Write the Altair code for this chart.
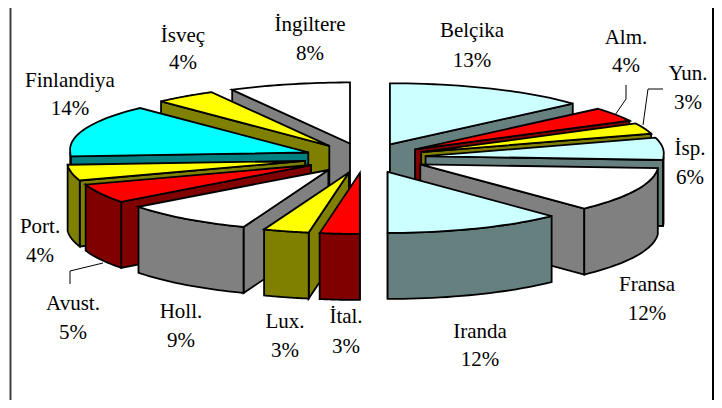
import math
import altair as alt

NAMES = ["Belçika", "Alm.", "Yun.", "İsp.", "Fransa", "Iranda", "İtal.", "Lux.", "Holl.", "Avust.", "Port.", "Finlandiya", "İsveç", "İngiltere"]
SHARES = [13.4, 3.8, 2.9, 5.9, 11.9, 12.1, 2.7, 3.1, 8.9, 5.1, 4.2, 14.0, 4.1, 7.9]
PERCENT_LABELS = ["13%", "4%", "3%", "6%", "12%", "12%", "3%", "3%", "9%", "5%", "4%", "14%", "4%", "8%"]
TOP_COLORS = ["#CCFFFF", "#FF0000", "#FFFF00", "#CCFFFF", "#FFFFFF", "#CCFFFF", "#FF0000", "#FFFF00", "#FFFFFF", "#FF0000", "#FFFF00", "#00FFFF", "#FFFF00", "#FFFFFF"]
SIDE_COLORS = ["#668080", "#800000", "#808000", "#668080", "#808080", "#668080", "#800000", "#808000", "#808080", "#800000", "#808000", "#008080", "#808000", "#808080"]
# label anchor positions, same order as NAMES
LABEL_X = [472, 626, 688, 690, 647, 480, 346, 285, 181, 73, 40, 70, 183, 310]
LABEL_Y1 = [31, 38, 74, 149, 285, 332, 317, 322, 312, 304, 227, 81, 36, 25]
LABEL_Y2 = [61, 66, 103, 178, 314, 360, 347, 351, 341, 333, 256, 109, 63, 54]

MARGIN = 8
W, H = 706, 392
CX, CY = 365.0, 158.0
RX, RY = 238.0, 61.0
EX, EY = 61.0, 15.0
DEPTH = 66.0
BACK_WIDEN = 0.045  # the picture's perspective widens the far rim a little


def px(x, y):
    return [x - MARGIN, y - MARGIN]


def rim(ax, ay, deg):
    a = math.radians(deg)
    widen = 1 + BACK_WIDEN * max(0.0, math.cos(a))
    return ax + RX * widen * math.sin(a), ay - RY * math.cos(a)


def poly(pts, fill):
    ring = [px(*p) for p in pts]
    ring.append(ring[0])
    return {"type": "Feature", "properties": {"fill": fill},
            "geometry": {"type": "Polygon", "coordinates": [ring]}}


def arc(ax, ay, a0, a1, n=24):
    return [rim(ax, ay, a0 + (a1 - a0) * i / n) for i in range(n + 1)]


def slice_features(start, end, top, side):
    mid = (start + end) / 2
    m = math.radians(mid)
    ax, ay = CX + EX * math.sin(m), CY - EY * math.cos(m)
    feats = []
    # the radial face turned towards the viewer
    face = end if mid < 180 else start
    ex, ey = rim(ax, ay, face)
    feats.append(poly([(ax, ay), (ex, ey), (ex, ey + DEPTH), (ax, ay + DEPTH)], side))
    # curved outer wall: only its front part is visible
    w0, w1 = max(start, 90.0), min(end, 270.0)
    if w1 > w0:
        upper = arc(ax, ay, w0, w1)
        lower = [(x, y + DEPTH) for x, y in reversed(upper)]
        feats.append(poly(upper + lower, side))
    feats.append(poly([(ax, ay)] + arc(ax, ay, start, end), top))
    return feats


spans = []
acc = 0.0
for s in SHARES:
    spans.append((acc * 3.6, (acc + s) * 3.6))
    acc += s

# painter's order: back slices first on each half
right = list(range(0, 6))
left = list(range(13, 5, -1))
features = []
for i in left + right:
    features += slice_features(spans[i][0], spans[i][1], TOP_COLORS[i], SIDE_COLORS[i])

xs = alt.Scale(domain=[0, W], range=[0, W], nice=False, zero=False)
ys = alt.Scale(domain=[0, H], range=[0, H], nice=False, zero=False)
X = lambda f: alt.X(f, type="quantitative", scale=xs, axis=None)
Y = lambda f: alt.Y(f, type="quantitative", scale=ys, axis=None)

pie = alt.Chart(alt.InlineData(values={"type": "FeatureCollection", "features": features},
                               format=alt.DataFormat(type="json", property="features"))).mark_geoshape(
    stroke="black", strokeWidth=1.8, strokeJoin="miter"
).encode(fill=alt.Fill("properties.fill:N", scale=None, legend=None)).project(
    type="identity", scale=1, translate=[0, 0]
)

label_rows = []
for i, n in enumerate(NAMES):
    label_rows.append({"x": LABEL_X[i] - MARGIN, "y": LABEL_Y1[i] - MARGIN, "t": n})
    label_rows.append({"x": LABEL_X[i] - MARGIN, "y": LABEL_Y2[i] - MARGIN, "t": PERCENT_LABELS[i]})
labels = alt.Chart(alt.Data(values=label_rows)).mark_text(
    font="Liberation Serif", fontSize=21, color="#000000", align="center", baseline="middle"
).encode(x=X("x"), y=Y("y"), text="t:N")

LEADERS = {
    "alm": [(626, 85), (626, 99), (615, 115)],
    "yun": [(663, 89), (648, 89), (643, 125)],
    "avust": [(70, 284), (70, 271), (103, 263)],
}
leader_rows = []
for k, pts in LEADERS.items():
    for j, (x, y) in enumerate(pts):
        leader_rows.append({"k": k, "o": j, "x": x - MARGIN, "y": y - MARGIN})
leaders = alt.Chart(alt.Data(values=leader_rows)).mark_line(color="black", strokeWidth=1).encode(
    x=X("x"), y=Y("y"), detail="k:N", order="o:Q"
)

frame_left = alt.Chart(alt.Data(values=[{"x": 10.5 - MARGIN}])).mark_rule(color="#404040", strokeWidth=2).encode(
    x=X("x"), y=alt.value(0), y2=alt.value(H))
frame_right = alt.Chart(alt.Data(values=[{"x": 705}])).mark_rule(color="#000000", strokeWidth=2).encode(
    x=X("x"), y=alt.value(0), y2=alt.value(H))

chart = alt.layer(frame_left, frame_right, pie, leaders, labels).properties(
    width=W, height=H, padding=0, autosize=alt.AutoSizeParams(type="none"), background="white"
).configure_view(stroke=None)

chart.save("out.html", embed_options={"renderer": "svg", "actions": False})
